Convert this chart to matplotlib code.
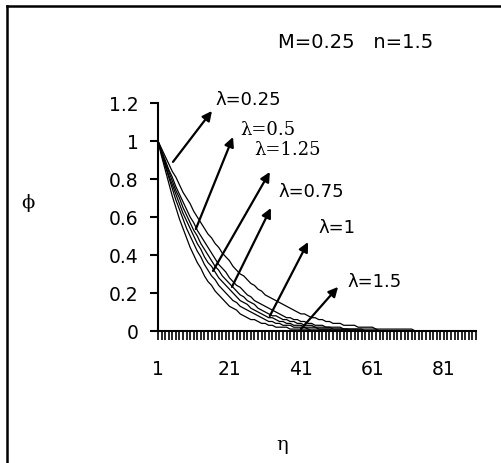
import numpy as np
import matplotlib
matplotlib.use("Agg")
import matplotlib.pyplot as plt
from matplotlib.lines import Line2D

plt.rcParams['font.family'] = ['DejaVu Sans']

# eta categories 1..90
eta = list(range(1, 91))
tick_labels = ['1', '21', '41', '61', '81']

# phi profiles (top curve first)
phi_1 = [1.00, 0.96, 0.92, 0.88, 0.84, 0.81, 0.77, 0.73, 0.70, 0.67,
         0.63, 0.60, 0.57, 0.54, 0.51, 0.49, 0.46, 0.44, 0.41, 0.39,
         0.37, 0.34, 0.32, 0.30, 0.29, 0.27, 0.25, 0.24, 0.22, 0.21,
         0.19, 0.18, 0.17, 0.16, 0.15, 0.14, 0.13, 0.12, 0.11, 0.10,
         0.09, 0.09, 0.08, 0.07, 0.07, 0.06, 0.06, 0.05, 0.05, 0.04,
         0.04, 0.04, 0.03, 0.03, 0.03, 0.03, 0.02, 0.02, 0.02, 0.02,
         0.02, 0.01, 0.01, 0.01, 0.01, 0.01, 0.01, 0.01, 0.01, 0.01,
         0.01, 0.01, 0, 0, 0, 0, 0, 0, 0, 0,
         0, 0, 0, 0, 0, 0, 0, 0, 0, 0]
phi_2 = [1.00, 0.95, 0.90, 0.85, 0.81, 0.76, 0.72, 0.68, 0.64, 0.60,
         0.57, 0.53, 0.50, 0.47, 0.44, 0.41, 0.38, 0.35, 0.33, 0.31,
         0.28, 0.26, 0.24, 0.23, 0.21, 0.19, 0.18, 0.16, 0.15, 0.14,
         0.13, 0.12, 0.11, 0.10, 0.09, 0.08, 0.07, 0.07, 0.06, 0.06,
         0.05, 0.05, 0.04, 0.04, 0.03, 0.03, 0.03, 0.02, 0.02, 0.02,
         0.02, 0.02, 0.01, 0.01, 0.01, 0.01, 0.01, 0.01, 0.01, 0.01,
         0.01, 0.01, 0, 0, 0, 0, 0, 0, 0, 0,
         0, 0, 0, 0, 0, 0, 0, 0, 0, 0,
         0, 0, 0, 0, 0, 0, 0, 0, 0, 0]
phi_3 = [1.00, 0.94, 0.89, 0.84, 0.79, 0.74, 0.70, 0.65, 0.61, 0.57,
         0.53, 0.50, 0.46, 0.43, 0.40, 0.37, 0.34, 0.32, 0.29, 0.27,
         0.25, 0.23, 0.21, 0.19, 0.18, 0.16, 0.15, 0.14, 0.12, 0.11,
         0.10, 0.09, 0.08, 0.08, 0.07, 0.06, 0.06, 0.05, 0.05, 0.04,
         0.04, 0.03, 0.03, 0.03, 0.02, 0.02, 0.02, 0.02, 0.02, 0.01,
         0.01, 0.01, 0.01, 0.01, 0.01, 0.01, 0.01, 0.01, 0, 0,
         0, 0, 0, 0, 0, 0, 0, 0, 0, 0,
         0, 0, 0, 0, 0, 0, 0, 0, 0, 0,
         0, 0, 0, 0, 0, 0, 0, 0, 0, 0]
phi_4 = [1.00, 0.94, 0.88, 0.82, 0.77, 0.72, 0.67, 0.62, 0.58, 0.54,
         0.50, 0.46, 0.43, 0.39, 0.36, 0.34, 0.31, 0.28, 0.26, 0.24,
         0.22, 0.20, 0.18, 0.16, 0.15, 0.14, 0.12, 0.11, 0.10, 0.09,
         0.08, 0.07, 0.07, 0.06, 0.05, 0.05, 0.04, 0.04, 0.03, 0.03,
         0.03, 0.02, 0.02, 0.02, 0.02, 0.01, 0.01, 0.01, 0.01, 0.01,
         0.01, 0.01, 0.01, 0.01, 0, 0, 0, 0, 0, 0,
         0, 0, 0, 0, 0, 0, 0, 0, 0, 0,
         0, 0, 0, 0, 0, 0, 0, 0, 0, 0,
         0, 0, 0, 0, 0, 0, 0, 0, 0, 0]
phi_5 = [1.00, 0.93, 0.87, 0.81, 0.75, 0.69, 0.64, 0.59, 0.54, 0.50,
         0.46, 0.42, 0.39, 0.35, 0.32, 0.29, 0.27, 0.24, 0.22, 0.20,
         0.18, 0.16, 0.15, 0.13, 0.12, 0.11, 0.10, 0.09, 0.08, 0.07,
         0.06, 0.05, 0.05, 0.04, 0.04, 0.03, 0.03, 0.03, 0.02, 0.02,
         0.02, 0.02, 0.01, 0.01, 0.01, 0.01, 0.01, 0.01, 0.01, 0,
         0, 0, 0, 0, 0, 0, 0, 0, 0, 0,
         0, 0, 0, 0, 0, 0, 0, 0, 0, 0,
         0, 0, 0, 0, 0, 0, 0, 0, 0, 0,
         0, 0, 0, 0, 0, 0, 0, 0, 0, 0]
phi_6 = [1.00, 0.92, 0.85, 0.78, 0.71, 0.65, 0.59, 0.54, 0.49, 0.44,
         0.40, 0.36, 0.33, 0.29, 0.26, 0.24, 0.21, 0.19, 0.17, 0.15,
         0.13, 0.12, 0.11, 0.09, 0.08, 0.07, 0.06, 0.06, 0.05, 0.04,
         0.04, 0.03, 0.03, 0.02, 0.02, 0.02, 0.02, 0.01, 0.01, 0.01,
         0.01, 0.01, 0.01, 0, 0, 0, 0, 0, 0, 0,
         0, 0, 0, 0, 0, 0, 0, 0, 0, 0,
         0, 0, 0, 0, 0, 0, 0, 0, 0, 0,
         0, 0, 0, 0, 0, 0, 0, 0, 0, 0,
         0, 0, 0, 0, 0, 0, 0, 0, 0, 0]

lam_labels = ['λ=0.25', 'λ=0.5', 'λ=1.25', 'λ=0.75', 'λ=1', 'λ=1.5']
label_serif = [False, True, True, False, False, False]
# text anchor (left, centre) and arrow tail -> head, in data units
label_pos = [(17.2, 1.22), (24.0, 1.065), (27.9, 0.96), (34.6, 0.737), (45.8, 0.547), (53.9, 0.263)]
arrow_tail = [(5.2, 0.89), (11.6, 0.537), (16.4, 0.316), (21.7, 0.232), (32.3, 0.079), (41.0, 0.01)]
arrow_head = [(16.1, 1.158), (22.0, 1.021), (32.3, 0.837), (32.6, 0.647), (43.0, 0.468), (51.4, 0.232)]

fig = plt.figure(figsize=(5.02, 4.64), dpi=100)
ax = fig.add_axes([0.3147, 0.2845, 0.6335, 0.4914])

for phi in [phi_1, phi_2, phi_3, phi_4, phi_5, phi_6]:
    ax.plot(eta, phi, color='black', lw=0.9)

ax.set_xlim(1, 90)
ax.set_ylim(0, 1.2)
ax.set_yticks([0, 0.2, 0.4, 0.6, 0.8, 1.0, 1.2])
ax.set_yticklabels(['0', '0.2', '0.4', '0.6', '0.8', '1', '1.2'])
ax.set_xticks(eta)
ax.set_xticklabels([str(e) if str(e) in tick_labels else '' for e in eta])
ax.tick_params(axis='y', direction='out', length=6, width=1.5, pad=8, labelsize=13.5)
ax.tick_params(axis='x', direction='out', length=6.5, width=1.2, pad=14, labelsize=13.5)
for s in ['top', 'right']:
    ax.spines[s].set_visible(False)
for s in ['left', 'bottom']:
    ax.spines[s].set_linewidth(1.5)

for lab, serif, pos, t, h in zip(lam_labels, label_serif, label_pos, arrow_tail, arrow_head):
    fam = ['DejaVu Serif'] if serif else ['DejaVu Sans']
    ax.text(pos[0], pos[1], lab, fontsize=13, family=fam, ha='left', va='center', clip_on=False)
    ax.annotate('', xy=h, xytext=t, annotation_clip=False,
                arrowprops=dict(arrowstyle='-|>', color='black', lw=1.6,
                                mutation_scale=14, shrinkA=0, shrinkB=0))

fig.text(278 / 502, 1 - 42 / 464, 'M=0.25   n=1.5', fontsize=14, ha='left', va='center')
fig.text(28 / 502, 1 - 203 / 464, 'ϕ', fontsize=14, ha='center', va='center',
         family=['DejaVu Serif'])
fig.text(282 / 502, 1 - 445 / 464, 'η', fontsize=14, ha='center', va='center',
         family=['DejaVu Serif'])

# outer chart border (left and top)
fig.add_artist(Line2D([6.5 / 502, 6.5 / 502], [0, 1 - 6.5 / 464], color='black', lw=1.8))
fig.add_artist(Line2D([6.5 / 502, 1], [1 - 6.5 / 464, 1 - 6.5 / 464], color='black', lw=1.8))

fig.savefig('out.png', dpi=100)
